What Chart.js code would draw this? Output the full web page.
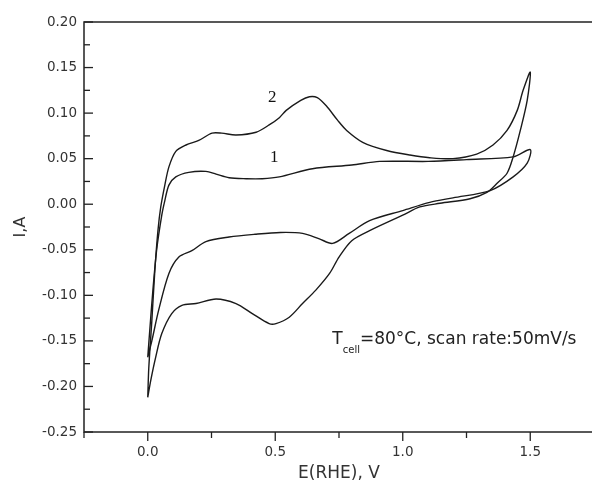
<!DOCTYPE html>
<html>
<head>
<meta charset="utf-8">
<script src="https://cdn.jsdelivr.net/npm/chart.js@4"></script>
<style>
  html, body { margin: 0; padding: 0; background: #fff; overflow: hidden; }
  #wrap { width: 600px; height: 480px; }
</style>
</head>
<body>
<div id="wrap"><canvas id="cv" width="600" height="480"></canvas></div>
<script>
// curve 1: anodic sweep up to 1.5 V, then back down
const curve1V = [0, 0.008, 0.02, 0.035, 0.055, 0.067, 0.083, 0.11, 0.161, 0.228, 0.268, 0.319, 0.386, 0.449, 0.516, 0.646, 0.80, 0.91, 1.10, 1.25, 1.433, 1.5,
  1.488, 1.433, 1.343, 1.197, 1.106, 1.0, 0.87, 0.79, 0.725, 0.673, 0.607, 0.52, 0.42, 0.319, 0.228, 0.173, 0.122, 0.083, 0.043, 0.016, 0];
const curve1I = [-0.168, -0.138, -0.095, -0.05, -0.012, 0.004, 0.021, 0.030, 0.035, 0.036, 0.033, 0.029, 0.028, 0.028, 0.030, 0.039, 0.043, 0.047, 0.047, 0.049, 0.052, 0.060,
  0.045, 0.030, 0.015, 0.007, 0.002, -0.007, -0.018, -0.032, -0.043, -0.038, -0.032, -0.031, -0.033, -0.036, -0.041, -0.051, -0.058, -0.076, -0.116, -0.15, -0.168];

// curve 2
const curve2V = [0, 0.004, 0.016, 0.028, 0.04, 0.051, 0.067, 0.083, 0.11, 0.15, 0.2, 0.252, 0.29, 0.346, 0.425, 0.476, 0.516, 0.543, 0.60, 0.634, 0.665, 0.70, 0.745, 0.78, 0.843, 0.937, 1.028, 1.106, 1.197, 1.29, 1.354, 1.409, 1.449, 1.472, 1.5,
  1.488, 1.461, 1.433, 1.409, 1.37, 1.33, 1.264, 1.146, 1.067, 1.0, 0.87, 0.80, 0.75, 0.713, 0.66, 0.607, 0.555, 0.503, 0.476, 0.41, 0.346, 0.268, 0.189, 0.134, 0.094, 0.055, 0.031, 0.012, 0];
const curve2I = [-0.212, -0.18, -0.128, -0.072, -0.029, -0.003, 0.021, 0.041, 0.058, 0.065, 0.070, 0.078, 0.078, 0.076, 0.079, 0.087, 0.095, 0.103, 0.114, 0.118, 0.117, 0.108, 0.092, 0.081, 0.068, 0.059, 0.054, 0.051, 0.050, 0.055, 0.065, 0.081, 0.103, 0.125, 0.145,
  0.114, 0.081, 0.052, 0.034, 0.023, 0.013, 0.006, 0.001, -0.003, -0.012, -0.029, -0.040, -0.058, -0.076, -0.094, -0.109, -0.124, -0.131, -0.131, -0.12, -0.109, -0.104, -0.109, -0.111, -0.12, -0.142, -0.168, -0.193, -0.212];

const xTitle = 'E(RHE), V';
const yTitle = 'I,A';
const curveLabels = ['1', '2'];

function pts(vs, is) {
  return vs.map((v, i) => ({ x: v, y: is[i] }));
}

function isMultiple(v, step) {
  return Math.abs(Math.round(v / step) * step - v) < 1e-6;
}

const lineStyle = {
  showLine: true,
  borderColor: '#1a1a1a',
  borderWidth: 1.4,
  pointRadius: 0,
  tension: 0.3,
  fill: false
};

const decor = {
  id: 'decor',
  afterDraw(chart) {
    const { ctx, chartArea: a, scales: { x, y } } = chart;
    ctx.save();
    ctx.strokeStyle = '#222';
    ctx.lineWidth = 1.5;
    ctx.strokeRect(a.left, a.top, a.right - a.left, a.bottom - a.top);
    ctx.lineWidth = 1.3;
    // y ticks point into the plot
    y.ticks.forEach(t => {
      const py = y.getPixelForValue(t.value);
      const len = isMultiple(t.value, 0.05) ? 9 : 6;
      ctx.beginPath();
      ctx.moveTo(a.left, py);
      ctx.lineTo(a.left + len, py);
      ctx.stroke();
    });
    // x ticks point down
    x.ticks.forEach(t => {
      const px = x.getPixelForValue(t.value);
      const len = isMultiple(t.value, 0.5) ? 9 : 6;
      ctx.beginPath();
      ctx.moveTo(px, a.bottom);
      ctx.lineTo(px, a.bottom + len);
      ctx.stroke();
    });

    // curve numbers
    ctx.fillStyle = '#111';
    ctx.font = '17px "Liberation Serif"';
    ctx.textAlign = 'center';
    ctx.textBaseline = 'middle';
    ctx.fillText(curveLabels[0], x.getPixelForValue(0.496), y.getPixelForValue(0.051));
    ctx.fillText(curveLabels[1], x.getPixelForValue(0.488), y.getPixelForValue(0.1176));

    // conditions note
    ctx.fillStyle = '#222';
    ctx.textAlign = 'left';
    ctx.textBaseline = 'alphabetic';
    let tx = x.getPixelForValue(0.724);
    const ty = y.getPixelForValue(-0.153);
    ctx.font = '17px "DejaVu Sans"';
    ctx.fillText('T', tx, ty);
    tx += ctx.measureText('T').width;
    ctx.font = '10px "DejaVu Sans"';
    ctx.fillText('cell', tx, ty + 9);
    tx += ctx.measureText('cell').width;
    ctx.font = '17px "DejaVu Sans"';
    ctx.fillText('=80°C, scan rate:50mV/s', tx, ty);
    ctx.restore();
  }
};

new Chart(document.getElementById('cv'), {
  type: 'scatter',
  data: {
    datasets: [
      { label: 'curve 1', data: pts(curve1V, curve1I), ...lineStyle },
      { label: 'curve 2', data: pts(curve2V, curve2I), ...lineStyle }
    ]
  },
  options: {
    responsive: false,
    animation: false,
    devicePixelRatio: 1,
    layout: { padding: { top: 22, right: 6, bottom: 0, left: 0 } },
    plugins: { legend: { display: false }, tooltip: { enabled: false } },
    scales: {
      x: {
        type: 'linear',
        min: -0.25,
        max: 1.75,
        afterFit: s => { s.height = 48; s.paddingLeft = 0; s.paddingRight = 0; },
        grid: { display: false, drawTicks: false },
        border: { display: false },
        ticks: {
          stepSize: 0.25,
          padding: 12,
          color: '#333',
          font: { family: 'DejaVu Sans', size: 13.5 },
          maxRotation: 0,
          autoSkip: false,
          callback: v => isMultiple(v, 0.5) ? v.toFixed(1) : ''
        },
        title: {
          display: true,
          text: xTitle,
          color: '#333',
          font: { family: 'DejaVu Sans', size: 17 },
          padding: { top: 0, bottom: -4 }
        }
      },
      y: {
        type: 'linear',
        min: -0.25,
        max: 0.2,
        afterFit: s => { s.width = 84; s.paddingTop = 0; s.paddingBottom = 0; },
        grid: { display: false, drawTicks: false },
        border: { display: false },
        ticks: {
          stepSize: 0.025,
          padding: 7,
          color: '#333',
          font: { family: 'DejaVu Sans', size: 13.5 },
          autoSkip: false,
          callback: v => isMultiple(v, 0.05) ? v.toFixed(2) : ''
        },
        title: {
          display: true,
          text: yTitle,
          color: '#333',
          font: { family: 'DejaVu Sans', size: 16 },
          padding: { top: 11, bottom: 0 }
        }
      }
    }
  },
  plugins: [decor]
});
</script>
</body>
</html>
